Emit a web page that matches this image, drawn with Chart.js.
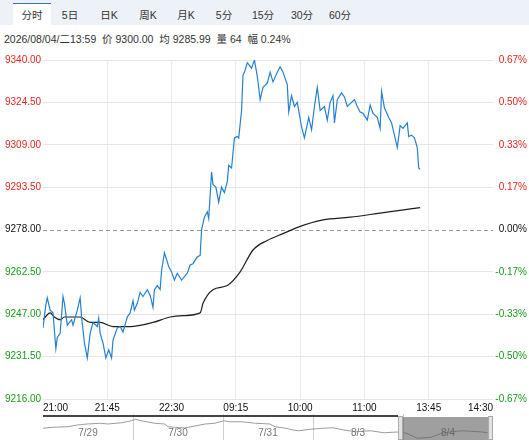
<!DOCTYPE html>
<html>
<head>
<meta charset="utf-8">
<script src="https://cdn.jsdelivr.net/npm/chart.js@4.4.0/dist/chart.umd.min.js"></script>
<style>
body{margin:0;width:529px;height:440px;overflow:hidden;background:#fff;position:relative;font-family:"Liberation Sans",Arial,"Noto Sans CJK SC",sans-serif}
#tabs{position:absolute;left:0;top:0;width:529px;height:25px;background:#edf1f8}
.tab{position:absolute;top:4px;width:38px;height:21px;line-height:22px;font-size:10.5px;color:#333;text-align:center}
.tab.on{background:#fff;border-top:1.5px solid #3a6fc4;top:3px;height:22px}
#info{position:absolute;left:4px;top:31px;font-size:10.5px;color:#333;white-space:nowrap}
#main{position:absolute;left:0;top:46px}
#nav{position:absolute;left:0;top:414px}
</style>
</head>
<body>
<div id="tabs"></div>
<div id="info">2026/08/04/二13:59&nbsp;&nbsp;价 9300.00&nbsp;&nbsp;均 9285.99&nbsp;&nbsp;量 64&nbsp;&nbsp;幅 0.24%</div>
<canvas id="main" width="529" height="368"></canvas>
<canvas id="nav" width="529" height="26"></canvas>
<script>
// tabs
const tabNames = ['分时','5日','日K','周K','月K','5分','15分','30分','60分'];
const tabCenters = [32,70,109,148,186,224,263,302,340];

// intraday price (minutes from 21:00 on the display axis)
const basePrice = 9278;
const minutes = [
  0,2,3,5,7,9,10,12,14,15,
  17,20,21,24,26,27,29,31,33,35,
  38,39,40,42,44,46,48,49,52,54,
  56,59,61,63,64,66,68,70,73,75,
  77,78,80,82,83,85,88,90,92,94,
  97,101,103,105,108,110,111,113,115,116,
  118,119,121,123,125,127,129,130,132,134,
  136,137,139,140,141,143,146,148,150,152,
  154,157,159,161,164,166,168,171,172,174,
  176,178,181,183,186,188,190,192,194,197,
  199,201,203,204,206,209,211,213,216,218,
  220,222,224,227,229,231,234,236,237,239,
  242,244,246,248,250,252,255,256,258,260,
  262,263,264
];
const prices = [
  9242,9250.5,9253,9248.5,9247.5,9234.5,9238.5,9240,9253.5,9251,
  9243,9245,9243,9248.5,9253,9246,9236.5,9231,9240,9244,
  9242.5,9245.5,9240,9236.5,9231,9234,9231,9237.5,9242,9242.5,
  9240.5,9246,9247.5,9252,9248.5,9251,9255,9253.5,9256,9254,
  9249.5,9256,9257.5,9256,9263,9269.5,9264.5,9262.5,9259.5,9262,
  9259.5,9262,9265,9265.5,9268,9268.5,9278,9282.5,9284.5,9282,
  9299,9294.5,9293.5,9288,9293.5,9291.5,9295.5,9301.5,9300.5,9311.5,
  9312,9311.5,9321.5,9334.5,9335.5,9339,9337,9340,9334,9325.5,
  9330,9331.5,9335.5,9332,9335.5,9337.5,9335.5,9331,9321,9327,
  9323,9324.5,9315.5,9311.5,9319,9314.5,9323,9330,9321.5,9323,
  9318,9324.5,9327,9317,9325.5,9328,9326.5,9323,9324.5,9325.5,
  9323,9321,9320.5,9318,9323.5,9320.5,9319,9315,9328.5,9322.5,
  9319,9317,9312.5,9308,9316,9315,9317,9312,9312.5,9311.5,
  9308,9300.5,9300
];
const avgMinutes = [0,5,8,12,15,26,33,40,49,61,77,89,98,110,112,119,129,138,147,157,168,182,196,215,236,250,264];
const avgPrices = [9245,9247.5,9246,9245,9246,9246,9244,9244,9242.5,9242.5,9244,9246,9246.5,9247.5,9251,9256,9257.5,9262.5,9270.5,9274,9276.5,9279.5,9281.5,9282.5,9284,9285,9286];
const timeLabels = ['21:00','21:45','22:30','09:15','10:00','11:00','13:45','14:30'];

// 5-day navigator line (day position, price)
const navDays = [0,0.11,0.27,0.38,0.49,0.64,0.72,0.87,0.98,1.03,1.09,1.24,1.35,1.39,1.46,1.57,1.69,1.8,1.91,2.01,2.07,2.21,2.36,2.52,2.58,2.7,2.78,2.84,2.97,3.11,3.22,3.34,3.48,3.64,3.79,3.93,4.04,4.16,4.31,4.43,4.54,4.65,4.76,4.88,4.94];
const navPrices = [9277,9281,9283,9290,9294,9297,9294,9299,9307,9313,9307,9297,9294,9283,9281,9278,9286,9294,9297,9307,9303,9303,9297,9294,9283,9277,9270,9267,9273,9277,9279,9270,9263,9267,9259,9262,9257,9237,9241,9257,9263,9267,9265,9262,9259];
const navDayLabels = ['7/29','7/30','7/31','8/3','8/4'];

const RED = '#e3261c', GREEN = '#189c18', FONT = '"Liberation Sans", Arial, sans-serif';

const tabs = document.getElementById('tabs');
tabNames.forEach((n, i) => {
  const d = document.createElement('div');
  d.className = 'tab' + (i === 0 ? ' on' : '');
  d.style.left = (tabCenters[i] - 19) + 'px';
  d.textContent = n;
  tabs.appendChild(d);
});

function tickColor(c) {
  const v = c.tick.value;
  return v > basePrice ? RED : (v < basePrice ? GREEN : '#111');
}

const mainDecor = {
  id: 'mainDecor',
  beforeDatasetsDraw(chart) {
    const {ctx, chartArea, scales} = chart;
    const y = Math.round(scales.y.getPixelForValue(basePrice)) + 0.5;
    ctx.save();
    ctx.strokeStyle = '#9a9a9a';
    ctx.lineWidth = 1;
    ctx.setLineDash([4, 3]);
    ctx.beginPath();
    ctx.moveTo(chartArea.left, y);
    ctx.lineTo(chartArea.right, y);
    ctx.stroke();
    ctx.restore();
  },
  afterDraw(chart) {
    const {ctx, chartArea, scales} = chart;
    ctx.save();
    ctx.font = '10px ' + FONT;
    ctx.fillStyle = '#111';
    ctx.textBaseline = 'middle';
    timeLabels.forEach((lab, i) => {
      const x = scales.x.getPixelForValue(i * 45);
      ctx.textAlign = i === 0 ? 'left' : (i === timeLabels.length - 1 ? 'right' : 'center');
      ctx.fillText(lab, x, chartArea.bottom + 9);
    });
    ctx.restore();
  }
};

new Chart(document.getElementById('main'), {
  type: 'line',
  data: {
    datasets: [
      {
        data: minutes.map((m, i) => ({x: m, y: prices[i]})),
        borderColor: '#2581d0',
        borderWidth: 1.2,
        pointRadius: 0,
        tension: 0
      },
      {
        data: avgMinutes.map((m, i) => ({x: m, y: avgPrices[i]})),
        borderColor: '#1e1e1e',
        borderWidth: 1.2,
        pointRadius: 0,
        cubicInterpolationMode: 'monotone'
      }
    ]
  },
  options: {
    responsive: false,
    animation: false,
    layout: {padding: {left: 5, right: 2, top: 14, bottom: 15}},
    plugins: {legend: {display: false}, tooltip: {enabled: false}},
    scales: {
      x: {
        type: 'linear', min: 0, max: 315,
        ticks: {stepSize: 45, display: false},
        grid: {drawTicks: false, color: c => (c.tick.value === 0 || c.tick.value === 315) ? 'rgba(0,0,0,0)' : '#ebebeb'},
        border: {display: false}
      },
      y: {
        position: 'left', min: 9216, max: 9340,
        ticks: {stepSize: 15.5, crossAlign: 'far', padding: 0, color: tickColor,
          font: {family: FONT, size: 10}, callback: v => v.toFixed(2)},
        grid: {drawTicks: false, color: c => c.tick.value === basePrice ? 'rgba(0,0,0,0)' : '#e6e6e6'},
        border: {display: false},
        afterFit: s => { s.width = 38; }
      },
      yR: {
        position: 'right', min: 9216, max: 9340,
        ticks: {stepSize: 15.5, crossAlign: 'far', padding: 0, color: tickColor,
          font: {family: FONT, size: 10},
          callback: v => ((v - basePrice) / basePrice * 100).toFixed(2) + '%'},
        grid: {drawOnChartArea: false, drawTicks: false},
        border: {display: false},
        afterFit: s => { s.width = 34; }
      }
    }
  },
  plugins: [mainDecor]
});

const navDecor = {
  id: 'navDecor',
  afterDraw(chart) {
    const {ctx, scales} = chart;
    const xs = scales.x;
    ctx.save();
    ctx.font = '10px ' + FONT;
    ctx.fillStyle = '#777';
    ctx.textAlign = 'center';
    ctx.textBaseline = 'middle';
    navDayLabels.forEach((d, i) => ctx.fillText(d, xs.getPixelForValue(i + 0.5), 19));
    // timeline bar and selected range
    const left = xs.getPixelForValue(0), selL = 398, selR = 493;
    ctx.fillStyle = '#444';
    ctx.fillRect(left, 1, selL - left, 2);
    ctx.fillStyle = 'rgba(95,95,95,0.6)';
    ctx.fillRect(selL + 5, 3, selR - selL - 10, 23);
    ctx.fillStyle = '#e2e2e2';
    ctx.strokeStyle = '#aaa';
    [selL, selR - 5].forEach(x => {
      ctx.fillRect(x, 2, 5, 24);
      ctx.strokeRect(x + 0.5, 2.5, 4, 23);
    });
    ctx.restore();
  }
};

new Chart(document.getElementById('nav'), {
  type: 'line',
  data: {
    datasets: [{
      data: navDays.map((d, i) => ({x: d, y: navPrices[i]})),
      borderColor: '#9c9c9c',
      borderWidth: 1,
      pointRadius: 0
    }]
  },
  options: {
    responsive: false,
    animation: false,
    layout: {padding: {left: 43, right: 36, top: 0, bottom: 0}},
    plugins: {legend: {display: false}, tooltip: {enabled: false}},
    scales: {
      x: {
        type: 'linear', min: 0, max: 5,
        ticks: {stepSize: 1, display: false},
        grid: {drawTicks: false, color: c => (c.tick.value === 0 || c.tick.value === 5) ? 'rgba(0,0,0,0)' : '#cfcfcf'},
        border: {display: false}
      },
      y: {display: false, min: 9230, max: 9334}
    }
  },
  plugins: [navDecor]
});
</script>
</body>
</html>
